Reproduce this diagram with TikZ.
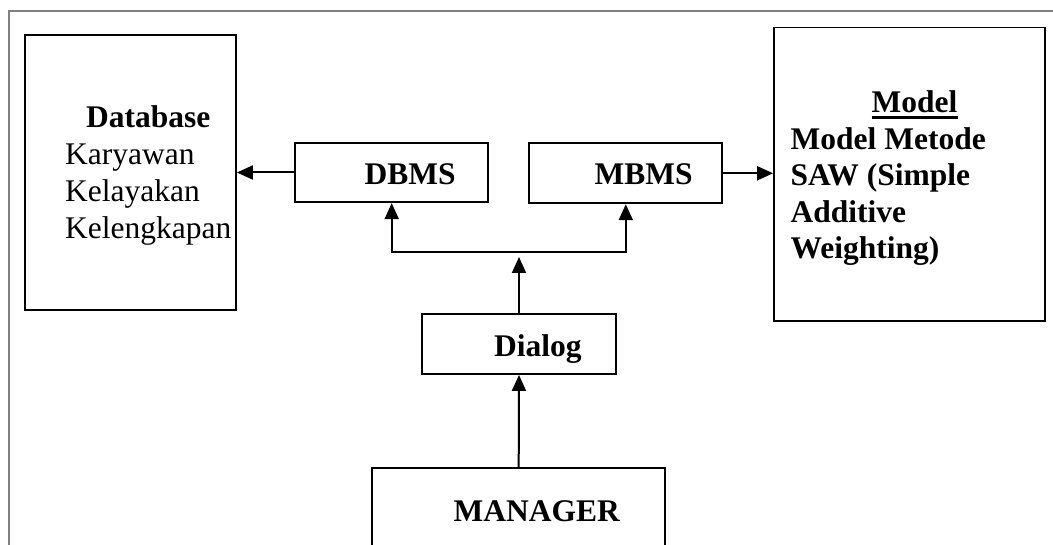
\documentclass[tikz,border=0pt]{standalone}
\usepackage{fontspec}
\setmainfont{Liberation Serif}
\usetikzlibrary{arrows.meta}
\definecolor{framegray}{RGB}{128,128,128}
\begin{document}
\begin{tikzpicture}[x=1pt,y=-1pt,
  box/.style={draw, line width=1.8pt, rectangle, inner sep=0pt},
  txt/.style={inner sep=0pt, anchor=base west, font=\fontsize{31.5}{37}\selectfont},
  btxt/.style={txt, font=\fontsize{31.5}{37}\selectfont\bfseries},
  link/.style={line width=2pt, -{Triangle[length=16pt,width=14pt]}},
  wire/.style={line width=2pt}]
\useasboundingbox (0,0) rectangle (1053,545);
\fill[white] (0,0) rectangle (1053,545);

% open outer frame
\draw[framegray, line width=2pt] (9,545) -- (9,11.5) -- (1053,11.5);

% boxes
\node[box, minimum width=211pt, minimum height=275pt] (db) at (130.5,172.5) {};
\node[box, minimum width=193pt, minimum height=59.5pt] (dbms) at (391.7,172.5) {};
\node[box, minimum width=193pt, minimum height=60pt] (mbms) at (625.8,173.3) {};
\node[box, minimum width=271pt, minimum height=293.5pt] (model) at (909.5,174.2) {};
\node[box, minimum width=193.5pt, minimum height=59.7pt] (dialog) at (519,344.2) {};
% manager box runs off the lower edge: only top and sides are drawn
\node[inner sep=0pt, minimum width=292.7pt, minimum height=77pt] (manager) at (518.7,506.5) {};
\draw[line width=1.8pt] (manager.south west) -- (manager.north west)
  -- (manager.north east) -- (manager.south east);

% texts
\node[btxt] (dbt) at (86,128) {Database};
\node[txt] (db1) at (65,165) {Karyawan};
\node[txt] (db2) at (65,202) {Kelayakan};
\node[txt] (db3) at (65,238.5) {Kelengkapan};
\node[btxt] (dbmst) at (364.5,185) {DBMS};
\node[btxt] (mbmst) at (594.5,185) {MBMS};
\node[btxt] (dialogt) at (494,357) {Dialog};
\node[btxt] (managert) at (453.5,521.5) {MANAGER};
\node[btxt] (mt) at (871.5,113) {Model};
\draw[line width=2.6pt] ([yshift=-4.5pt]mt.base west) -- ([yshift=-4.5pt]mt.base east);
\node[btxt] (m1) at (790.5,149.5) {Model Metode};
\node[btxt] (m2) at (790.5,186) {SAW (Simple};
\node[btxt] (m3) at (790.5,222.5) {Additive};
\node[btxt] (m4) at (790.5,258.5) {Weighting)};

% connectors
\coordinate (split) at (519,252);
\draw[link] (dbms.west) -- (db.east);
\draw[link] (mbms.east) -- (mbms.east -| model.west);
\draw[link] (manager.north) -- (dialog.south);
\draw[link] (dialog.north) -- ([yshift=-5pt]split);
\draw[link] (split -| dbms.south) -- (dbms.south);
\draw[link] (split -| mbms.south) -- (mbms.south);
\draw[wire, line cap=rect] (split -| dbms.south) -- (split -| mbms.south);
\end{tikzpicture}
\end{document}
